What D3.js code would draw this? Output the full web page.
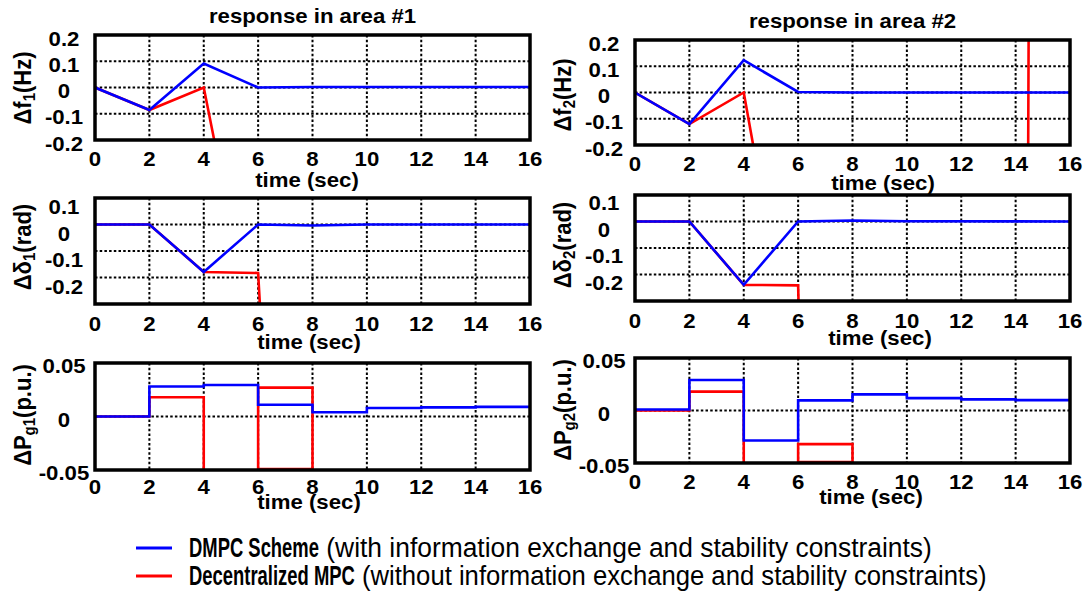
<!DOCTYPE html>
<html>
<head>
<meta charset="utf-8">
<script src="https://cdn.jsdelivr.net/npm/d3@7"></script>
<style>
  body { margin: 0; background: #fff; }
  svg { display: block; }
  text { font-family: "Liberation Sans", Arial, Helvetica, sans-serif; fill: #000; }
</style>
</head>
<body>
<svg id="chart" width="1089" height="594"></svg>
<script>
// ---- data ----
const timeTicks = [0, 2, 4, 6, 8, 10, 12, 14, 16];
const freqTicks = [0.2, 0.1, 0, -0.1, -0.2];
const angleTicks = [0.1, 0, -0.1, -0.2];
const powerTicks = [0.05, 0, -0.05];

// [time, value] pairs
const f1Blue = [[0, 0], [2, -0.086], [4, 0.091], [6, 0], [8, 0.002], [16, 0.002]];
const f1Red = [[0, 0], [2, -0.086], [4, 0], [4.5, -0.26]];
const f2Blue = [[0, 0], [2, -0.12], [4, 0.123], [6, 0.002], [8, 0], [16, 0]];
const f2Red = [[0, 0], [2, -0.12], [4, 0], [4.45, -0.26], [14.46, -0.26], [14.48, 0.26]];
const d1Blue = [[0, 0], [2, 0], [4, -0.179], [6, 0], [8, -0.004], [10, 0], [16, 0]];
const d1Red = [[0, 0], [2, 0], [4, -0.179], [6, -0.183], [6.12, -0.4]];
const d2Blue = [[0, 0], [2, 0], [4, -0.239], [6, 0], [8, 0.004], [10, 0.001], [16, 0]];
const d2Red = [[0, 0], [2, 0], [4, -0.239], [6, -0.241], [6.04, -0.4]];

// generator set-points, held over each 2 s interval
const stepTimes = [0, 2, 4, 6, 8, 10, 12, 14, 16];
const pg1Blue = [0, 0.028, 0.0295, 0.011, 0.004, 0.008, 0.0085, 0.009, 0.009];
const pg2Blue = [0.001, 0.029, -0.0286, 0.0096, 0.0154, 0.0118, 0.0106, 0.0099, 0.0099];
const pg1Red = [[0, 0], [2, 0], [2, 0.018], [4, 0.018], [4, -0.08], [6, -0.08], [6, 0.027], [8, 0.027], [8, -0.049], [6, -0.049]];
const pg2Red = [[0, 0], [2, 0], [2, 0.018], [4, 0.018], [4, -0.08], [6, -0.08], [6, -0.032], [8, -0.032], [8, -0.049], [6, -0.049]];

const legendNames = ["DMPC Scheme", "Decentralized MPC"];
const legendNotes = [" (with information exchange and stability constraints)",
                     " (without information exchange and stability constraints)"];
const seriesColors = ["#0000ff", "#ff0000"];

// ---- drawing ----
const svg = d3.select("#chart");
const XS = 1.11; // the source figure was stretched sideways, text included

function stretchedText(g, x, y, str, anchor) {
  return g.append("text")
    .attr("transform", `translate(${x},${y}) scale(${XS},1)`)
    .attr("text-anchor", anchor || "middle")
    .attr("dominant-baseline", "central")
    .style("font-size", "20px")
    .style("font-weight", "bold")
    .text(str);
}

const stepPairs = vals => stepTimes.map((t, i) => [t, vals[i]]);

const panels = [
  { left: 95, right: 530, top: 35, bottom: 140, domain: [-0.2, 0.2], ticks: freqTicks, grid: [0.1, 0, -0.1],
    blue: f1Blue, red: f1Red, step: false, ylab: ["Δf", "1", "(Hz)"], ylabY: 88,
    title: "response in area #1", titleY: 16, xlab: [307, 180], tickDy: 3.5, xTickDy: 19 },
  { left: 635, right: 1070, top: 40, bottom: 145, domain: [-0.2, 0.2], ticks: freqTicks, grid: [0.1, 0, -0.1],
    blue: f2Blue, red: f2Red, step: false, ylab: ["Δf", "2", "(Hz)"], ylabY: 95,
    title: "response in area #2", titleY: 21, xlab: [883, 183], tickDy: 3.5, xTickDy: 19 },
  { left: 95, right: 530, top: 198, bottom: 304, domain: [-0.3, 0.1], ticks: angleTicks, grid: [0, -0.1, -0.2],
    blue: d1Blue, red: d1Red, step: false, ylab: ["Δδ", "1", "(rad)"], ylabY: 247,
    xlab: [309, 342], tickDy: 9, xTickDy: 20 },
  { left: 635, right: 1070, top: 195, bottom: 301, domain: [-0.3, 0.1], ticks: angleTicks, grid: [0, -0.1, -0.2],
    blue: d2Blue, red: d2Red, step: false, ylab: ["Δδ", "2", "(rad)"], ylabY: 245,
    xlab: [880, 338], tickDy: 8, xTickDy: 20 },
  { left: 95, right: 530, top: 363, bottom: 470, domain: [-0.05, 0.05], ticks: powerTicks, grid: [0],
    blue: stepPairs(pg1Blue), red: pg1Red, step: true, ylab: ["ΔP", "g1", "(p.u.)"], ylabY: 415,
    xlab: [309, 502], tickDy: 3, xTickDy: 17 },
  { left: 635, right: 1070, top: 358, bottom: 463, domain: [-0.05, 0.05], ticks: powerTicks, grid: [0],
    blue: stepPairs(pg2Blue), red: pg2Red, step: true, ylab: ["ΔP", "g2", "(p.u.)"], ylabY: 410,
    xlab: [871, 497], tickDy: 3, xTickDy: 19 }
];

panels.forEach((p, i) => {
  const g = svg.append("g");
  const x = d3.scaleLinear().domain([0, 16]).range([p.left, p.right]);
  const y = d3.scaleLinear().domain(p.domain).range([p.bottom, p.top]);

  const clipId = "clip" + i;
  svg.append("clipPath").attr("id", clipId)
    .append("rect")
    .attr("x", p.left).attr("y", p.top)
    .attr("width", p.right - p.left).attr("height", p.bottom - p.top);

  // dotted grid
  g.selectAll(".vgrid").data(timeTicks.slice(1, -1)).enter().append("line")
    .attr("x1", d => x(d)).attr("x2", d => x(d))
    .attr("y1", p.top).attr("y2", p.bottom)
    .attr("stroke", "#000").attr("stroke-width", 2).attr("stroke-dasharray", "2.5,2.2");
  g.selectAll(".hgrid").data(p.grid).enter().append("line")
    .attr("x1", p.left).attr("x2", p.right)
    .attr("y1", d => y(d)).attr("y2", d => y(d))
    .attr("stroke", "#000").attr("stroke-width", 2).attr("stroke-dasharray", "2.5,2.2");

  const line = d3.line().x(d => x(d[0])).y(d => y(d[1]));
  const stepLine = d3.line().x(d => x(d[0])).y(d => y(d[1])).curve(d3.curveStepAfter);

  const lines = g.append("g").attr("clip-path", `url(#${clipId})`);
  lines.append("path").attr("d", line(p.red))
    .attr("fill", "none").attr("stroke", seriesColors[1]).attr("stroke-width", 2.6);
  lines.append("path").attr("d", (p.step ? stepLine : line)(p.blue))
    .attr("fill", "none").attr("stroke", seriesColors[0]).attr("stroke-width", 2.6);

  // frame
  g.append("rect")
    .attr("x", p.left).attr("y", p.top)
    .attr("width", p.right - p.left).attr("height", p.bottom - p.top)
    .attr("fill", "none").attr("stroke", "#000").attr("stroke-width", 3.5);

  // tick labels
  timeTicks.forEach(t => stretchedText(g, x(t), p.bottom + p.xTickDy, String(t)));
  p.ticks.forEach(v => stretchedText(g, p.left - 31, y(v) + p.tickDy, String(v)));

  stretchedText(g, p.xlab[0], p.xlab[1], "time (sec)");
  if (p.title) stretchedText(g, (p.left + p.right) / 2, p.titleY, p.title);

  const yl = g.append("text")
    .attr("transform", `translate(${p.left - 72},${p.ylabY}) rotate(-90) scale(1,${XS})`)
    .attr("text-anchor", "middle")
    .attr("dominant-baseline", "central")
    .style("font-size", "22px")
    .style("font-weight", "bold");
  yl.append("tspan").text(p.ylab[0]);
  yl.append("tspan").attr("dy", 5).style("font-size", "15px").text(p.ylab[1]);
  yl.append("tspan").attr("dy", -5).text(p.ylab[2]);
});

// legend: condensed bold name, then the note, each squeezed to the widths seen in the figure
const legend = svg.append("g");
const legendY = [548, 576];
const legendEnd = [932, 987];
const nameX = 189;
let boldScale = null;
legendNames.forEach((name, i) => {
  legend.append("line")
    .attr("x1", 136).attr("x2", 172)
    .attr("y1", legendY[i]).attr("y2", legendY[i])
    .attr("stroke", seriesColors[i]).attr("stroke-width", 3);
  const b = legend.append("text")
    .attr("dominant-baseline", "central")
    .style("font-size", "27px").style("font-weight", "bold")
    .text(name);
  const bw = b.node().getComputedTextLength();
  if (boldScale === null) boldScale = 130 / bw;
  b.attr("transform", `translate(${nameX},${legendY[i]}) scale(${boldScale},1)`);
  const noteX = nameX + bw * boldScale;
  const n = legend.append("text")
    .attr("dominant-baseline", "central")
    .style("font-size", "27px")
    .style("white-space", "pre")
    .text(legendNotes[i]);
  const nw = n.node().getComputedTextLength();
  n.attr("transform", `translate(${noteX},${legendY[i]}) scale(${(legendEnd[i] - noteX) / nw},1)`);
});
</script>
</body>
</html>
